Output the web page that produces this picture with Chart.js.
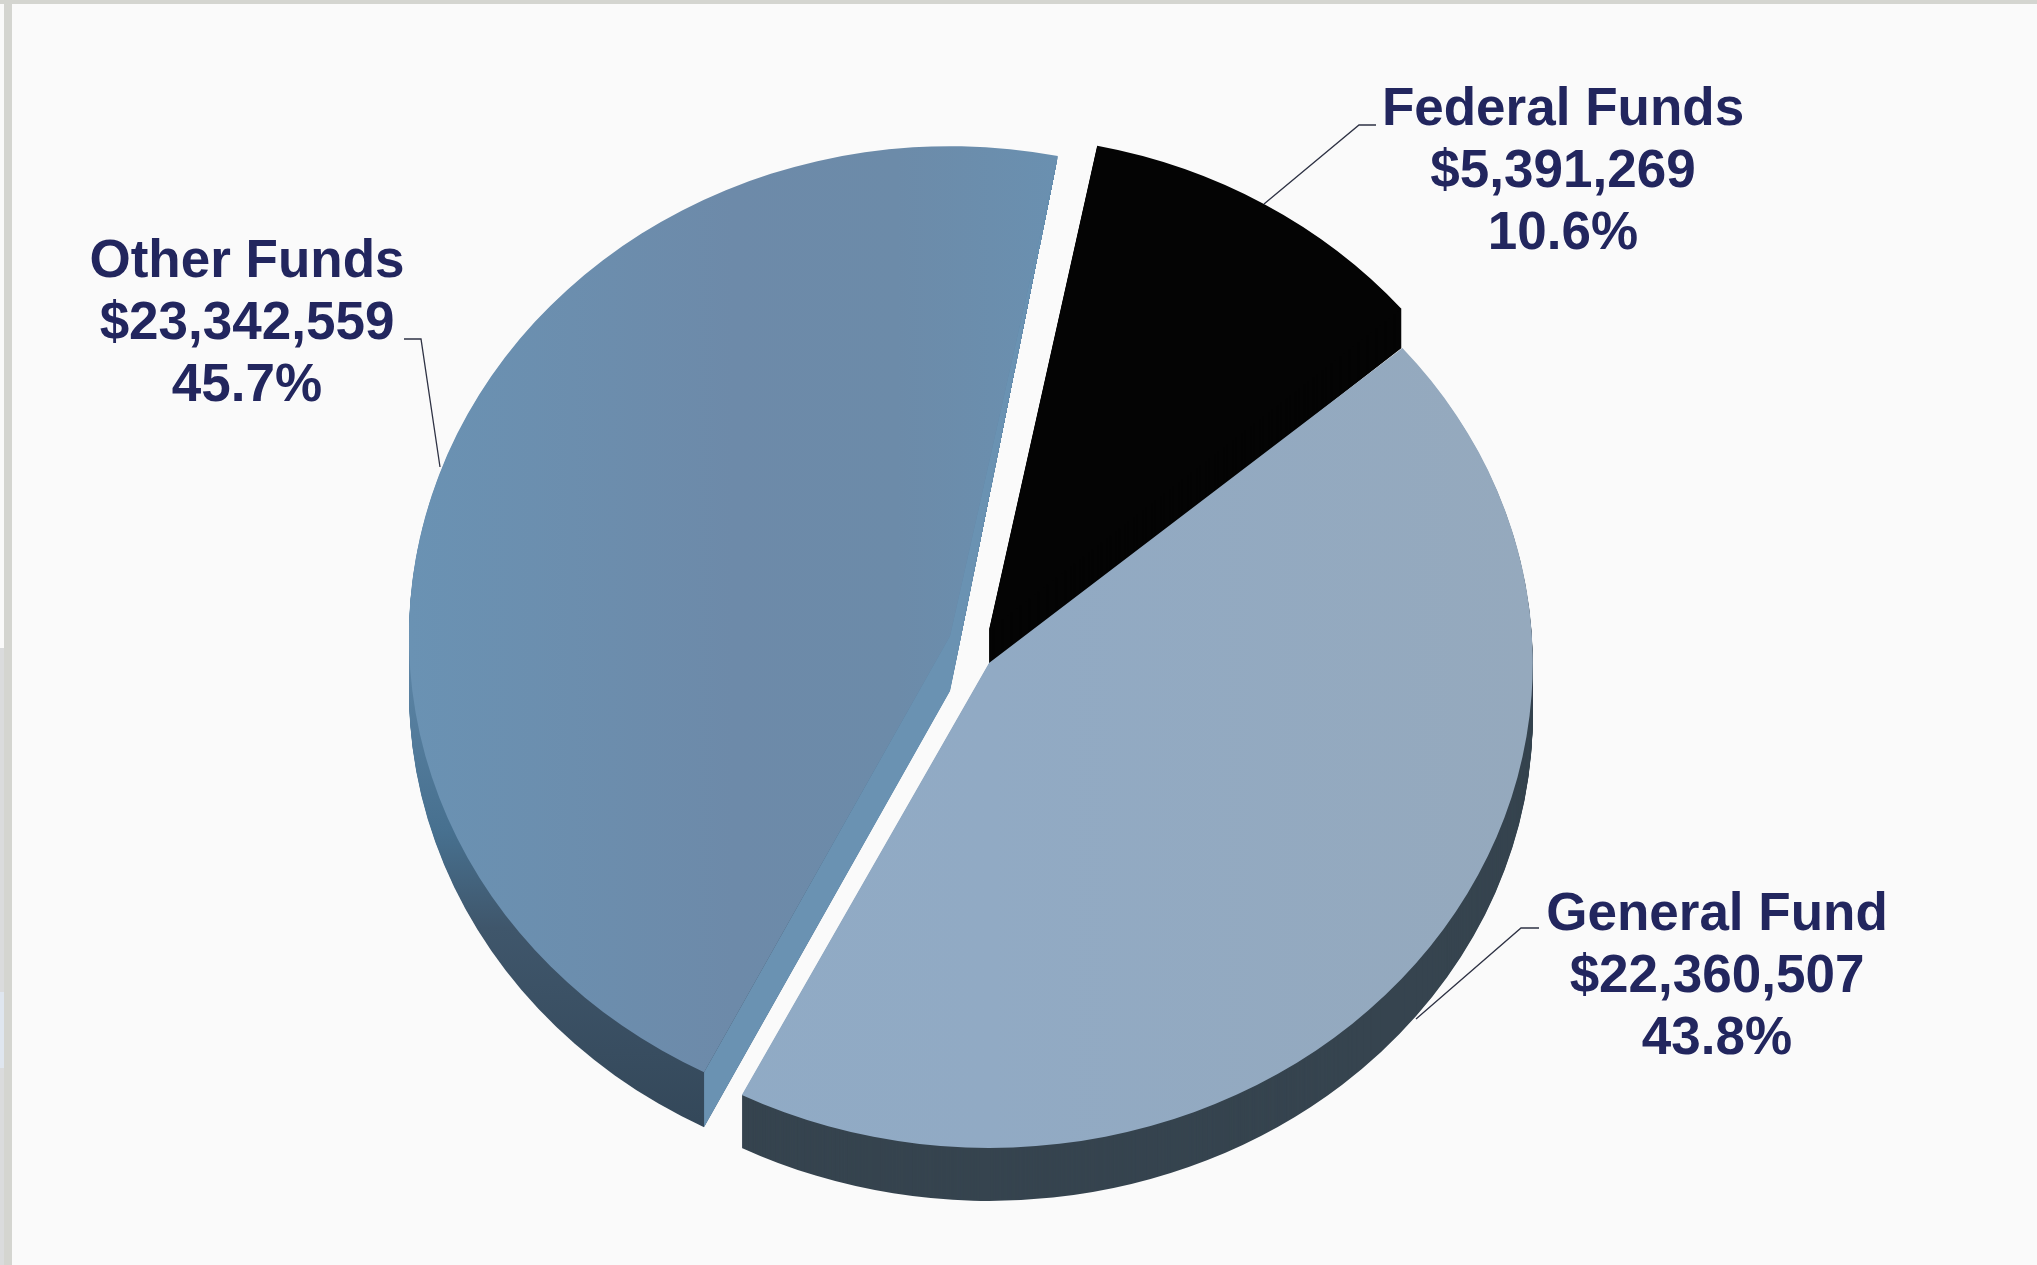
<!DOCTYPE html>
<html>
<head>
<meta charset="utf-8">
<title>Funds</title>
<script src="https://cdn.jsdelivr.net/npm/chart.js@4"></script>
<style>
  html, body { margin: 0; padding: 0; background: #fafafa; }
  #wrap { width: 2037px; height: 1265px; }
</style>
</head>
<body>
<div id="wrap"><canvas id="chart" width="2037" height="1265"></canvas></div>
<script>
// chart values
const categories = ['Federal Funds', 'General Fund', 'Other Funds'];
const amounts = [5391269, 22360507, 23342559];
const amountLabels = ['$5,391,269', '$22,360,507', '$23,342,559'];
const percentLabels = ['10.6%', '43.8%', '45.7%'];

// look of each slice
const canvas = document.getElementById('chart');
const g = canvas.getContext('2d');

function sideways(stops) {
    const grad = g.createLinearGradient(430, 0, 1510, 0);
    stops.forEach(s => grad.addColorStop(s[0], s[1]));
    return grad;
}
function upright(y0, y1, stops) {
    const grad = g.createLinearGradient(0, y0, 0, y1);
    stops.forEach(s => grad.addColorStop(s[0], s[1]));
    return grad;
}

const topColors = [
    '#040404',
    sideways([[0, '#8fabc6'], [0.5, '#91aac4'], [1, '#95a9bd']]),
    sideways([[0, '#6a92b3'], [0.3, '#6d8aa9'], [0.45, '#6c8ba9'], [0.6, '#6a90b0'], [1, '#6a90b0']])
];
const wallColors = [
    '#040404',
    '#36444f',
    upright(640, 1120, [[0, '#5f87a8'], [0.4, '#47708f'], [0.6, '#3f566b'], [1, '#34485a']])
];
const faceColors = [null, null, '#6a92b2'];
const depths = [39, 53, 55];
// explode shift from the pie centre and stretch against the chart radius
const shiftX = [19, 19, -20];
const shiftY = [-10, 23, -4];
const stretchX = [1.005, 1.007, 1.002];
const stretchY = [0.915, 0.898, 0.907];

// label placing
const labelX = [1563, 1717, 247];
const labelY = [125, 930, 277];
const lineGap = 62;
const leaders = [
    [[1376, 125], [1359, 125], [1264, 204]],
    [[1539, 928], [1521, 928], [1416, 1019]],
    [[404, 339], [421, 339], [440, 467]]
];

function slicePath(ctx, arc) {
    ctx.beginPath();
    ctx.moveTo(arc.x, arc.y);
    ctx.arc(arc.x, arc.y, arc.outerRadius, arc.startAngle, arc.endAngle);
    ctx.closePath();
}

// moves one slice to its exploded place and squashes it into an ellipse
function sliceTransform(ctx, arc, i, drop) {
    ctx.translate(arc.x + shiftX[i], arc.y + shiftY[i] + drop);
    ctx.scale(stretchX[i], stretchY[i]);
    ctx.translate(-arc.x, -arc.y);
}

// page corners of a slice once it has been moved and squashed
function sliceCorners(ctx, arc, i) {
    ctx.save();
    sliceTransform(ctx, arc, i, 0);
    const m = ctx.getTransform();
    ctx.restore();
    const edge = a => m.transformPoint({
        x: arc.x + Math.cos(a) * arc.outerRadius,
        y: arc.y + Math.sin(a) * arc.outerRadius
    });
    return {
        apex: m.transformPoint({ x: arc.x, y: arc.y }),
        start: edge(arc.startAngle),
        end: edge(arc.endAngle)
    };
}

const frame = {
    id: 'frame',
    beforeDraw(chart) {
        const ctx = chart.ctx;
        ctx.save();
        ctx.fillStyle = '#dadbdc';
        ctx.fillRect(0, 648, 4, 617);
        ctx.fillStyle = '#dfe6ef';
        ctx.fillRect(0, 992, 4, 76);
        ctx.fillStyle = '#d4d5d0';
        ctx.fillRect(0, 0, 2037, 4);
        ctx.fillRect(4, 0, 8, 1265);
        ctx.restore();
    }
};

const pie3d = {
    id: 'pie3d',
    beforeDatasetDraw(chart, args) {
        const ctx = chart.ctx;
        const arcs = args.meta.data;
        // federal first, then other, general sits on top of both
        [0, 2, 1].forEach(i => {
            const arc = arcs[i];
            const c = sliceCorners(ctx, arc, i);
            const d = depths[i];

            // side wall, the cut faces run out to nothing at the far corner
            ctx.save();
            if (faceColors[i]) {
                ctx.beginPath();
                ctx.moveTo(c.end.x, c.end.y);
                ctx.lineTo(c.apex.x, c.apex.y + d);
                ctx.lineTo(c.start.x, c.start.y + d);
                ctx.lineTo(c.start.x, 1265);
                ctx.lineTo(0, 1265);
                ctx.lineTo(0, 0);
                ctx.lineTo(c.end.x, 0);
                ctx.closePath();
                ctx.clip();
            }
            ctx.fillStyle = wallColors[i];
            for (let k = d; k > 0; k--) {
                ctx.save();
                sliceTransform(ctx, arc, i, k);
                slicePath(ctx, arc);
                ctx.restore();
                ctx.fill();
            }
            ctx.restore();

            // cut faces
            if (faceColors[i]) {
                ctx.save();
                ctx.fillStyle = faceColors[i];
                ctx.beginPath();
                ctx.moveTo(c.end.x, c.end.y);
                ctx.lineTo(c.apex.x, c.apex.y + d);
                ctx.lineTo(c.start.x, c.start.y + d);
                ctx.lineTo(c.start.x, c.start.y);
                ctx.lineTo(c.apex.x, c.apex.y);
                ctx.closePath();
                ctx.fill();
                ctx.restore();
            }

            // top surface
            ctx.save();
            sliceTransform(ctx, arc, i, 0);
            arc.draw(ctx);
            ctx.restore();
        });
        return false;
    }
};

const callouts = {
    id: 'callouts',
    afterDraw(chart) {
        const ctx = chart.ctx;
        ctx.save();
        ctx.strokeStyle = '#2e3244';
        ctx.lineWidth = 1.3;
        leaders.forEach(pts => {
            ctx.beginPath();
            pts.forEach((p, n) => n ? ctx.lineTo(p[0], p[1]) : ctx.moveTo(p[0], p[1]));
            ctx.stroke();
        });
        ctx.fillStyle = '#22265e';
        ctx.font = 'bold 53px "Liberation Sans", Arial, sans-serif';
        ctx.textAlign = 'center';
        ctx.textBaseline = 'alphabetic';
        categories.forEach((name, i) => {
            ctx.fillText(name, labelX[i], labelY[i]);
            ctx.fillText(amountLabels[i], labelX[i], labelY[i] + lineGap);
            ctx.fillText(percentLabels[i], labelX[i], labelY[i] + lineGap * 2);
        });
        ctx.restore();
    }
};

new Chart(canvas, {
    type: 'pie',
    data: {
        labels: categories,
        datasets: [{
            data: amounts,
            backgroundColor: topColors,
            borderWidth: 0
        }]
    },
    options: {
        responsive: false,
        animation: false,
        rotation: 11.5,
        layout: { padding: { top: 100, bottom: 85, left: 0, right: 97 } },
        plugins: {
            legend: { display: false },
            tooltip: { enabled: false }
        }
    },
    plugins: [frame, pie3d, callouts]
});
</script>
</body>
</html>
